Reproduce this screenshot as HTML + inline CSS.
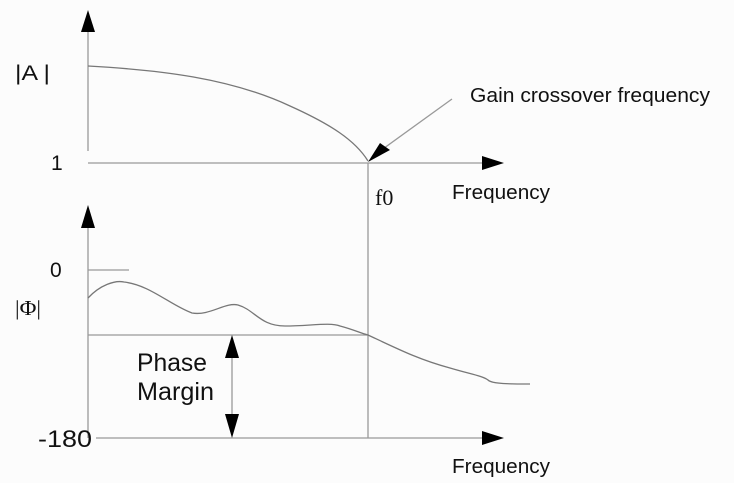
<!DOCTYPE html>
<html><head><style>body{margin:0;background:#fff}svg{display:block}text{font-family:"Liberation Sans",sans-serif;fill:#111}</style></head><body>
<svg width="734" height="483" viewBox="0 0 734 483">
<rect width="734" height="483" fill="#fcfcfc"/>
<g stroke="#999" stroke-width="1.3" fill="none">
<line x1="88" y1="28" x2="88" y2="151"/>
<line x1="88" y1="163" x2="485" y2="163"/>
<line x1="368" y1="163" x2="368" y2="438"/>
<line x1="88" y1="225" x2="88" y2="438"/>
<line x1="96" y1="438" x2="485" y2="438"/>
<line x1="88" y1="270" x2="129" y2="270"/>
<line x1="88" y1="335" x2="368" y2="335"/>
<line x1="232" y1="355" x2="232" y2="418"/>
<line x1="452" y1="99" x2="380" y2="151"/>
<path d="M88,66 C160,70 230,78 290,106 C330,124 355,140 368,161" stroke="#777"/>
<path d="M88,298 C100,285 115,280 124,282 C150,285 170,305 192,313 C210,316 225,302 238,305 C255,310 260,326 285,326 C310,326 330,322 340,326 C355,330 360,333 368,335 C400,350 420,360 450,368 C470,374 483,376 488,380 C492,384 510,384 530,384" stroke="#777"/>
</g>
<g fill="#000">
<polygon points="88,10 81,32 95,32"/>
<polygon points="88,205 81,228 95,228"/>
<polygon points="504,163 482,156 482,170"/>
<polygon points="504,438 482,431 482,445"/>
<polygon points="232,335 225,358 239,358"/>
<polygon points="232,438 225,414 239,414"/>
<polygon points="368,162 390,150 380,143"/>
</g>
<g lengthAdjust="spacingAndGlyphs">
<text x="15" y="80" font-size="21" textLength="35" lengthAdjust="spacingAndGlyphs">|A |</text>
<text x="51" y="170" font-size="21">1</text>
<text x="50" y="277" font-size="21">0</text>
<text x="15" y="315" font-size="21" textLength="26" lengthAdjust="spacingAndGlyphs" style="font-family:'Liberation Serif',serif">|Φ|</text>
<text x="470" y="102" font-size="20" textLength="240" lengthAdjust="spacingAndGlyphs">Gain crossover frequency</text>
<text x="452" y="199" font-size="20" textLength="98" lengthAdjust="spacingAndGlyphs">Frequency</text>
<text x="375" y="205" font-size="22" style="font-family:'Liberation Serif',serif">f0</text>
<text x="137" y="371" font-size="25" textLength="70" lengthAdjust="spacingAndGlyphs">Phase</text>
<text x="137" y="400" font-size="25" textLength="77" lengthAdjust="spacingAndGlyphs">Margin</text>
<text x="38" y="447" font-size="24" textLength="54" lengthAdjust="spacingAndGlyphs">-180</text>
<text x="452" y="473" font-size="20" textLength="98" lengthAdjust="spacingAndGlyphs">Frequency</text>
</g>
</svg>
</body></html>
